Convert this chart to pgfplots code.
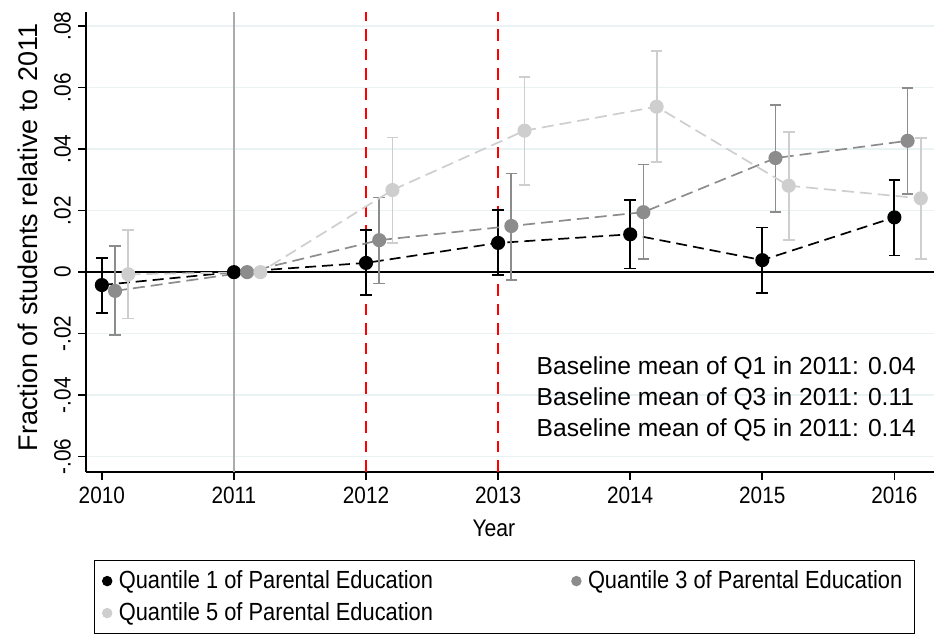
\documentclass[border=0pt]{standalone}
\usepackage{fontspec}
\setmainfont{Liberation Sans}
\newfontfamily\cond[FakeStretch=0.88]{Liberation Sans}
\usepackage{pgfplots}
\pgfplotsset{compat=1.18}
\usepackage{pgfplotstable}

\definecolor{qone}{RGB}{0,0,0}
\definecolor{qthree}{RGB}{140,140,140}
\definecolor{qfive}{RGB}{206,206,206}
\definecolor{gridc}{RGB}{234,242,243}
\definecolor{vline}{RGB}{172,172,172}
\definecolor{rline}{RGB}{255,0,0}

% Quantile 1 (x at year)
\pgfplotstableread{
x y ep em
2010 -0.0042 0.0087 0.0092
2011 0.0000 0.0000 0.0000
2012 0.0030 0.0107 0.0105
2013 0.0095 0.0107 0.0105
2014 0.0123 0.0111 0.0111
2015 0.0039 0.0106 0.0108
2016 0.0178 0.0121 0.0124
}\qonetab

% Quantile 3 (x at year + 0.1)
\pgfplotstableread{
x y ep em
2010.1 -0.0061 0.0147 0.0144
2011.1 0.0000 0.0000 0.0000
2012.1 0.0104 0.0139 0.0141
2013.1 0.0150 0.0171 0.0176
2014.1 0.0195 0.0155 0.0152
2015.1 0.0371 0.0173 0.0175
2016.1 0.0427 0.0173 0.0173
}\qthreetab

% Quantile 5 (x at year + 0.2)
\pgfplotstableread{
x y ep em
2010.2 -0.0007 0.0144 0.0144
2011.2 0.0000 0.0000 0.0000
2012.2 0.0267 0.0171 0.0172
2013.2 0.0460 0.0175 0.0177
2014.2 0.0538 0.0182 0.0179
2015.2 0.0281 0.0175 0.0177
2016.2 0.0240 0.0195 0.0197
}\qfivetab

\begin{document}
\begin{tikzpicture}
\begin{axis}[
  name=ax,
  scale only axis,
  width=424pt, height=230pt,
  xmin=2009.88, xmax=2016.3,
  ymin=-0.065, ymax=0.0846,
  scaled ticks=false,
  axis x line*=bottom, axis y line*=left,
  every outer x axis line/.append style={-},
  every outer y axis line/.append style={-},
  axis line style={-, line width=0.8pt, black},
  xtick={2010,2011,2012,2013,2014,2015,2016},
  xticklabels={2010,2011,2012,2013,2014,2015,2016},
  ytick={-0.06,-0.04,-0.02,0,0.02,0.04,0.06,0.08},
  yticklabels={-.06,-.04,-.02,0,.02,.04,.06,.08},
  tick align=outside,
  major tick length=4pt,
  tick style={black, line width=0.8pt},
  xticklabel style={font=\cond\fontsize{11.8}{13}\selectfont},
  yticklabel style={rotate=90, anchor=south, font=\cond\fontsize{11.8}{13}\selectfont},
  ymajorgrids,
  grid style={gridc, line width=0.8pt},
  xlabel={Year},
  xlabel style={at={(axis description cs:0.481,-0.122)}, anchor=center, font=\cond\fontsize{12}{14}\selectfont},
  ylabel={Fraction of students relative to 2011},
  ylabel style={at={(axis description cs:-0.069,0.51)}, anchor=center, font=\fontsize{13.5}{16}\selectfont},
  legend columns=2,
  legend cell align=left,
  legend image code/.code={\draw[mark repeat=2, mark phase=2, #1] plot coordinates {(0pt,0pt) (2.4pt,0pt) (4.8pt,0pt)};},
  legend style={at={(axis description cs:0,0)}, anchor=north west, xshift=4pt, yshift=-44pt,
    draw=black, line width=0.6pt, font=\cond\fontsize{12.4}{14}\selectfont,
    row sep=1.5pt, inner xsep=4pt, inner ysep=3pt},
]
% legend images
\addlegendimage{only marks, mark=*, mark size=2.3pt, qone}
\addlegendentry{\makebox[226pt][l]{\hspace{1.5pt}Quantile 1 of Parental Education}}
\addlegendimage{only marks, mark=*, mark size=2.3pt, qthree}
\addlegendentry{\hspace{1.5pt}Quantile 3 of Parental Education}
\addlegendimage{only marks, mark=*, mark size=2.3pt, qfive}
\addlegendentry{\hspace{1.5pt}Quantile 5 of Parental Education\rule[-14pt]{0pt}{14pt}}

% reference lines
\addplot[black, line width=1pt, forget plot] coordinates {(2009.88,0) (2016.3,0)};
\addplot[vline, line width=1pt, forget plot] coordinates {(2011,-0.065) (2011,0.0846)};
\addplot[rline, line width=1pt, dash pattern=on 5.8pt off 4pt, forget plot] coordinates {(2012,-0.065) (2012,0.0846)};
\addplot[rline, line width=1pt, dash pattern=on 5.8pt off 4pt, forget plot] coordinates {(2013,-0.065) (2013,0.0846)};

% series
\addplot[qone, line width=0.85pt, dash pattern=on 5.5pt off 3pt, mark=*, mark size=3.1pt,
  mark options={solid, fill=qone, draw=qone}, forget plot,
  error bars/.cd, y dir=both, y explicit,
  error bar style={solid, line width=0.9pt, qone},
  error mark=-, error mark options={rotate=90, solid, line width=0.9pt, mark size=2.9pt, qone}]
  table[x=x, y=y, y error plus=ep, y error minus=em] {\qonetab};
\addplot[qthree, line width=0.85pt, dash pattern=on 6pt off 3pt, mark=*, mark size=3.1pt,
  mark options={solid, fill=qthree, draw=qthree}, forget plot,
  error bars/.cd, y dir=both, y explicit,
  error bar style={solid, line width=0.9pt, qthree},
  error mark=-, error mark options={rotate=90, solid, line width=0.9pt, mark size=2.9pt, qthree}]
  table[x=x, y=y, y error plus=ep, y error minus=em] {\qthreetab};
\addplot[qfive, line width=0.85pt, dash pattern=on 6pt off 3pt, mark=*, mark size=3.1pt,
  mark options={solid, fill=qfive, draw=qfive}, forget plot,
  error bars/.cd, y dir=both, y explicit,
  error bar style={solid, line width=0.9pt, qfive},
  error mark=-, error mark options={rotate=90, solid, line width=0.9pt, mark size=2.9pt, qfive}]
  table[x=x, y=y, y error plus=ep, y error minus=em] {\qfivetab};

% annotations
\node[anchor=west, inner sep=0pt, font=\fontsize{12.3}{14}\selectfont] at (rel axis cs:0.531,0.226) {Baseline mean of Q1 in 2011: 0.04};
\node[anchor=west, inner sep=0pt, font=\fontsize{12.3}{14}\selectfont] at (rel axis cs:0.531,0.159) {Baseline mean of Q3 in 2011: 0.11};
\node[anchor=west, inner sep=0pt, font=\fontsize{12.3}{14}\selectfont] at (rel axis cs:0.531,0.0915) {Baseline mean of Q5 in 2011: 0.14};
\end{axis}
\pgfresetboundingbox
\useasboundingbox ([xshift=-43pt,yshift=-80.5pt]ax.south west) rectangle ([yshift=6pt]ax.north east);
\end{tikzpicture}
\end{document}
